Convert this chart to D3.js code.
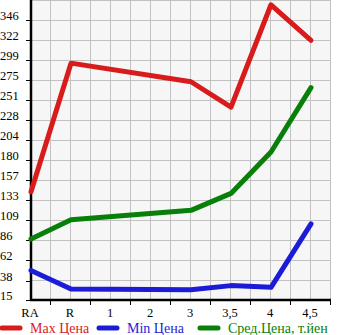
<!DOCTYPE html>
<meta charset="utf-8">
<script src="https://d3js.org/d3.v7.min.js"></script>
<style>
  body { margin: 0; background: #fff; }
  text { font-family: "Liberation Serif", "DejaVu Serif", serif; }
</style>
<div id="chart"></div>
<script>

// categories and series (null = no value, the line just runs across)
var categories = ["RA", "R", "1", "2", "3", "3,5", "4", "4,5"];
var maxPrice = [143, 295, null, null, 273, 243, 364, 322];
var minPrice = [50, 28, null, null, 27, 32, 30, 105];
var avgPrice = [87, 110, null, null, 121, 141, 190, 266];
var yTicks = [15, 38, 62, 86, 109, 133, 157, 180, 204, 228, 251, 275, 299, 322, 346];

var series = [
  { name: "Max Цена", values: maxPrice, color: "#d81c1c" },
  { name: "Min Цена", values: minPrice, color: "#1c1cd8" },
  { name: "Сред.Цена, т.йен", values: avgPrice, color: "#087f08" }
];

var W = 345, H = 335;
var svg = d3.select("#chart").append("svg")
    .attr("width", W)
    .attr("height", H);

var plot = { left: 31, right: 331, top: 0, bottom: 300 };
var step = (yTicks[yTicks.length - 1] - yTicks[0]) / (yTicks.length - 1);

var x = d3.scaleLinear().domain([0, categories.length - 0.5]).range([plot.left, plot.right]);
var y = d3.scaleLinear().domain([yTicks[0], yTicks[0] + step * yTicks.length]).range([plot.bottom, plot.top]);

// plot background
svg.append("rect")
    .attr("x", plot.left).attr("y", plot.top)
    .attr("width", plot.right - plot.left).attr("height", plot.bottom - plot.top)
    .attr("fill", "#f6f6f6");

// grid
var g = svg.append("g").attr("stroke", "#c2c2c2").attr("stroke-width", 1);
d3.range(0, categories.length * 2).map(function(k) { return k / 2; }).forEach(function(i) {
  g.append("line")
      .attr("x1", Math.round(x(i)) - 0.5).attr("x2", Math.round(x(i)) - 0.5)
      .attr("y1", plot.top).attr("y2", plot.bottom);
});
d3.range(0, yTicks.length + 1).forEach(function(k) {
  var yy = Math.round(y(yTicks[0] + step * k)) + 0.5;
  g.append("line")
      .attr("x1", plot.left).attr("x2", plot.right)
      .attr("y1", yy).attr("y2", yy);
});

// y axis
var yAxis = svg.append("g");
yAxis.append("line")
    .attr("x1", plot.left).attr("x2", plot.left)
    .attr("y1", plot.top).attr("y2", plot.bottom + 1)
    .attr("stroke", "#000").attr("stroke-width", 2.5);
yTicks.forEach(function(v) {
  var yy = Math.round(y(v)) + 0.5;
  yAxis.append("line")
      .attr("x1", plot.left - 5).attr("x2", plot.left)
      .attr("y1", yy).attr("y2", yy)
      .attr("stroke", "#000");
  yAxis.append("text")
      .attr("x", 0).attr("y", yy - 0.5)
      .attr("font-size", 12.5)
      .text(v);
});

// x axis
var xAxis = svg.append("g");
xAxis.append("line")
    .attr("x1", plot.left - 1).attr("x2", plot.right)
    .attr("y1", plot.bottom).attr("y2", plot.bottom)
    .attr("stroke", "#000").attr("stroke-width", 2.5);
categories.forEach(function(c, i) {
  var xx = Math.round(x(i + 0.5)) - 0.5;
  xAxis.append("line")
      .attr("x1", xx).attr("x2", xx)
      .attr("y1", plot.bottom).attr("y2", plot.bottom + 5)
      .attr("stroke", "#000");
  xAxis.append("text")
      .attr("x", x(i) - 1).attr("y", plot.bottom + 17)
      .attr("text-anchor", "middle")
      .attr("font-size", 12.5)
      .text(c);
});

// lines
var line = d3.line()
    .x(function(d) { return x(d.i); })
    .y(function(d) { return y(d.v); });

series.forEach(function(s) {
  var pts = s.values.map(function(v, i) { return { i: i, v: v }; })
      .filter(function(d) { return d.v != null; });
  svg.append("path")
      .datum(pts)
      .attr("d", line)
      .attr("fill", "none")
      .attr("stroke", s.color)
      .attr("stroke-width", 5)
      .attr("stroke-linejoin", "round")
      .attr("stroke-linecap", "round");
});

// legend
var legendX = [2, 99, 200];
series.forEach(function(s, k) {
  var lg = svg.append("g").attr("transform", "translate(" + legendX[k] + ",328)");
  lg.append("line")
      .attr("x1", 0).attr("x2", 18)
      .attr("y1", 0).attr("y2", 0)
      .attr("stroke", s.color)
      .attr("stroke-width", 5)
      .attr("stroke-linecap", "round");
  lg.append("text")
      .attr("x", 28).attr("y", 5)
      .attr("font-size", 14)
      .attr("fill", s.color)
      .text(s.name);
});

</script>
